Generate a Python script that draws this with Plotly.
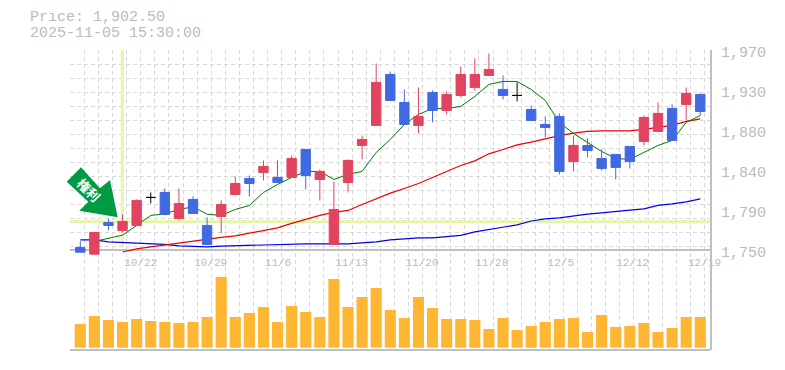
import plotly.graph_objects as go

idx = list(range(45))
opens = [1752.8,1745.4,1780.3,1771.5,1777.0,1807.8,1813.3,1784.7,1805.6,1777.0,1786.9,1811.1,1828.7,1835.3,1829.8,1829.8,1860.6,1827.6,1756.1,1824.3,1865.0,1887.0,1943.1,1912.3,1887.0,1923.3,1903.5,1920.0,1928.8,1942.0,1926.6,1920.0,1904.6,1888.1,1896.9,1847.4,1865.0,1850.7,1855.1,1863.9,1869.4,1880.4,1905.7,1910.1,1921.1]
closes = [1747.6,1769.3,1777.0,1781.4,1804.5,1807.8,1789.1,1801.2,1790.2,1756.1,1800.1,1823.2,1823.2,1841.9,1824.3,1850.7,1832.0,1836.4,1794.6,1848.5,1871.6,1934.3,1914.5,1888.1,1896.9,1903.5,1921.1,1943.1,1943.1,1948.6,1920.0,1920.0,1892.5,1884.8,1836.4,1865.0,1859.5,1839.7,1840.8,1847.4,1895.8,1900.2,1870.5,1922.2,1902.4]
highs = [1759.7,1769.3,1784.3,1789.1,1805.6,1813.3,1817.7,1817.7,1808.9,1785.8,1804.5,1830.9,1832.0,1848.5,1848.5,1854.0,1860.6,1838.6,1825.4,1849.6,1876.0,1955.2,1946.4,1926.6,1928.8,1925.5,1924.4,1951.9,1960.7,1966.2,1942.0,1934.3,1909.0,1896.9,1900.2,1876.0,1872.7,1860.6,1855.1,1863.9,1898.0,1912.3,1910.1,1928.8,1922.2]
lows = [1747.6,1745.4,1771.5,1769.3,1777.0,1801.2,1788.0,1782.5,1790.2,1756.1,1768.2,1810.0,1808.9,1826.5,1824.3,1829.8,1816.6,1804.5,1756.1,1813.3,1849.6,1887.0,1914.5,1888.1,1878.2,1890.3,1899.1,1917.8,1925.5,1942.0,1915.6,1913.4,1892.5,1873.8,1833.1,1836.4,1851.8,1837.5,1827.6,1839.7,1865.0,1880.4,1870.5,1892.5,1898.0]
doji_idx = [5, 31]

ma_short = [None,1759.4,1762.7,1766.3,1777.0,1788.0,1789.8,1794.6,1797.5,1789.4,1788.0,1794.6,1799.0,1813.3,1822.1,1829.8,1836.4,1836.4,1827.6,1833.1,1836.4,1857.3,1871.6,1888.1,1899.1,1905.7,1905.7,1907.9,1918.9,1932.1,1935.4,1935.4,1926.6,1914.5,1890.3,1878.2,1868.3,1858.4,1850.7,1849.6,1857.3,1865.0,1870.5,1890.3,1898.0]
ma_mid = [None,None,None,1747.8,1751.3,1753.5,1755.7,1757.9,1759.7,1761.6,1763.8,1765.6,1768.5,1771.5,1774.4,1779.2,1783.6,1788.0,1791.3,1793.5,1800.1,1806.3,1812.5,1817.7,1823.2,1829.8,1836.0,1843.0,1848.1,1855.8,1860.6,1865.7,1868.6,1872.3,1875.9,1878.5,1880.4,1881.1,1881.1,1881.1,1882.6,1884.8,1887.0,1891.4,1894.3]
ma_long = [1761.2,1761.2,1759.0,1758.3,1756.8,1756.1,1756.1,1754.6,1754.2,1753.5,1754.2,1754.6,1755.7,1756.1,1756.1,1756.4,1756.8,1756.8,1756.8,1756.8,1757.9,1759.0,1761.2,1762.7,1763.4,1763.4,1764.5,1766.0,1770.0,1772.6,1774.4,1777.7,1781.9,1784.3,1785.4,1787.6,1789.4,1790.9,1792.0,1793.8,1795.3,1799.0,1800.8,1803.0,1806.3]
volumes = [23.7,31.7,27.7,25.7,28.7,26.7,25.7,24.7,25.7,30.7,70.7,30.7,34.7,40.7,25.7,41.7,35.7,30.7,68.7,40.7,50.7,59.7,37.7,29.7,50.7,39.7,28.7,28.7,27.7,18.7,29.7,17.7,21.7,25.7,28.7,29.7,15.7,32.7,20.7,21.7,24.7,15.7,19.7,30.7,30.7]

x_tick_pos = [4.29,9.25,14.03,19.26,24.25,29.2,34.1,39.2,44.3]
x_tick_text = ["10/22","10/29","11/6","11/13","11/20","11/28","12/5","12/12","12/19"]
y_tick_pos = [1967.8,1923.8,1879.8,1835.8,1791.8,1747.8]
y_tick_text = ["1,970","1,930","1,880","1,840","1,790","1,750"]
x_grid = [-0.71 + k for k in range(46)]
y_grid = [1970 - 15.4 * k for k in range(15)]

cross_index = 2.98
cross_price = 1781.0
x_min, x_max = -0.73, 44.69
y_min, y_max = 1640, 1970

header_1 = "Price: 1,902.50"
header_2 = "2025-11-05 15:30:00"
marker_text = "<b>権利</b>"
arrow_px = [(66.7,181.7),(81,167.3),(100,188.3),(110,180),(117.7,217.3),(79.3,210.7),(88.3,201.7)]

RED, BLUE = "#e2435f", "#4169e1"
TXT = "#bbbbbb"
FONT = "Liberation Mono"
OFF = 8
L, R, T, B = 70 - OFF, 75 + OFF, 50 - OFF, 20 + OFF
PW, PH = 785 - L - R, 370 - T - B

fig = go.Figure()

cl = dict(mode="lines", line=dict(color="#e5f5a8", width=3), showlegend=False, hoverinfo="skip")
fig.add_trace(go.Scatter(x=[cross_index, cross_index], y=[y_max, 1752.8], xaxis="x", yaxis="y", **cl))
fig.add_trace(go.Scatter(x=[x_min, x_max], y=[cross_price, cross_price], xaxis="x", yaxis="y", **cl))
for series, color, w in [(ma_long, "#0000ee", 1.2), (ma_mid, "#ee0000", 1.2), (ma_short, "#007a00", 1)]:
    fig.add_trace(go.Scatter(x=idx, y=series, mode="lines", line=dict(color=color, width=w),
                             connectgaps=False, showlegend=False, xaxis="x", yaxis="y"))

plain = [i for i in idx if i not in doji_idx]
fig.add_trace(go.Candlestick(
    x=plain, open=[opens[i] for i in plain], high=[highs[i] for i in plain],
    low=[lows[i] for i in plain], close=[closes[i] for i in plain],
    increasing=dict(line=dict(color=RED, width=1), fillcolor=RED),
    decreasing=dict(line=dict(color=BLUE, width=1), fillcolor=BLUE),
    whiskerwidth=0, showlegend=False, xaxis="x", yaxis="y2"))
fig.add_trace(go.Candlestick(
    x=doji_idx, open=[opens[i] for i in doji_idx], high=[highs[i] for i in doji_idx],
    low=[lows[i] for i in doji_idx], close=[closes[i] for i in doji_idx],
    increasing=dict(line=dict(color="#000000", width=1), fillcolor="#000000"),
    decreasing=dict(line=dict(color="#000000", width=1), fillcolor="#000000"),
    whiskerwidth=0, showlegend=False, xaxis="x", yaxis="y2"))
fig.add_trace(go.Bar(x=idx, y=volumes, marker=dict(color="#ffb733", line=dict(width=0)),
                     showlegend=False, xaxis="x", yaxis="y3"))

def px_x(v): return (v - OFF - L) / PW
def px_y(v): return (T + PH - (v - OFF)) / PH

path = "M " + " L ".join(f"{px_x(a)} {px_y(b)}" for a, b in arrow_px) + " Z"
shapes = [
    dict(type="path", path=path, xref="paper", yref="paper", fillcolor="#009a44", line=dict(width=0), layer="above"),
    dict(type="line", xref="paper", yref="paper", x0=0, x1=1, y0=0, y1=0, line=dict(color="#c0c0c0", width=2), layer="above"),
]
annotations = [
    dict(text=header_1, xref="paper", yref="paper", x=px_x(29), y=px_y(18), xanchor="left", yanchor="middle",
         showarrow=False, font=dict(family=FONT, size=15, color=TXT), height=13, borderpad=0),
    dict(text=header_2, xref="paper", yref="paper", x=px_x(29), y=px_y(33), xanchor="left", yanchor="middle",
         showarrow=False, font=dict(family=FONT, size=15, color=TXT), height=13, borderpad=0),
    dict(text=marker_text, xref="paper", yref="paper", x=px_x(88.5), y=px_y(189.5), xanchor="center", yanchor="middle",
         textangle=45, showarrow=False, font=dict(family="Noto Sans CJK JP", size=13, color="#ffffff")),
]

fig.update_layout(
    width=785, height=370, margin=dict(l=L, r=R, t=T, b=B, pad=0),
    paper_bgcolor="#ffffff", plot_bgcolor="#ffffff", showlegend=False,
    bargap=0.21, boxgap=0.05, boxmode="overlay",
    shapes=shapes, annotations=annotations,
    xaxis=dict(range=[x_min, x_max], anchor="free", position=(PH - 200) / PH,
               tickmode="array", tickvals=x_tick_pos, ticktext=x_tick_text,
               showgrid=False, zeroline=False, showline=True, linecolor="#c0c0c0", linewidth=2,
               ticks="outside", ticklen=2, tickcolor="rgba(0,0,0,0)", layer="below traces",
               tickfont=dict(family=FONT, size=11, color=TXT),
               rangeslider=dict(visible=False),
               minor=dict(tickmode="array", tickvals=x_grid, showgrid=True, gridcolor="#d8d8d8", griddash="4px,3px", gridwidth=1, ticks="")),
    yaxis=dict(range=[y_min, y_max], side="right", anchor="x", tickmode="array", tickvals=y_tick_pos, ticktext=y_tick_text,
               showgrid=False, zeroline=False, showline=True, linecolor="#c0c0c0", linewidth=2,
               ticks="outside", ticklen=6, tickcolor="rgba(0,0,0,0)",
               tickfont=dict(family=FONT, size=15, color=TXT),
               minor=dict(tickmode="array", tickvals=y_grid, showgrid=True, gridcolor="#d8d8d8", griddash="4px,3px", gridwidth=1, ticks="")),
    yaxis2=dict(range=[y_min, y_max], overlaying="y", visible=False),
    yaxis3=dict(range=[-2.3, 297.7], overlaying="y", visible=False),
)
fig.write_html("out.html", config=dict(displayModeBar=False))
